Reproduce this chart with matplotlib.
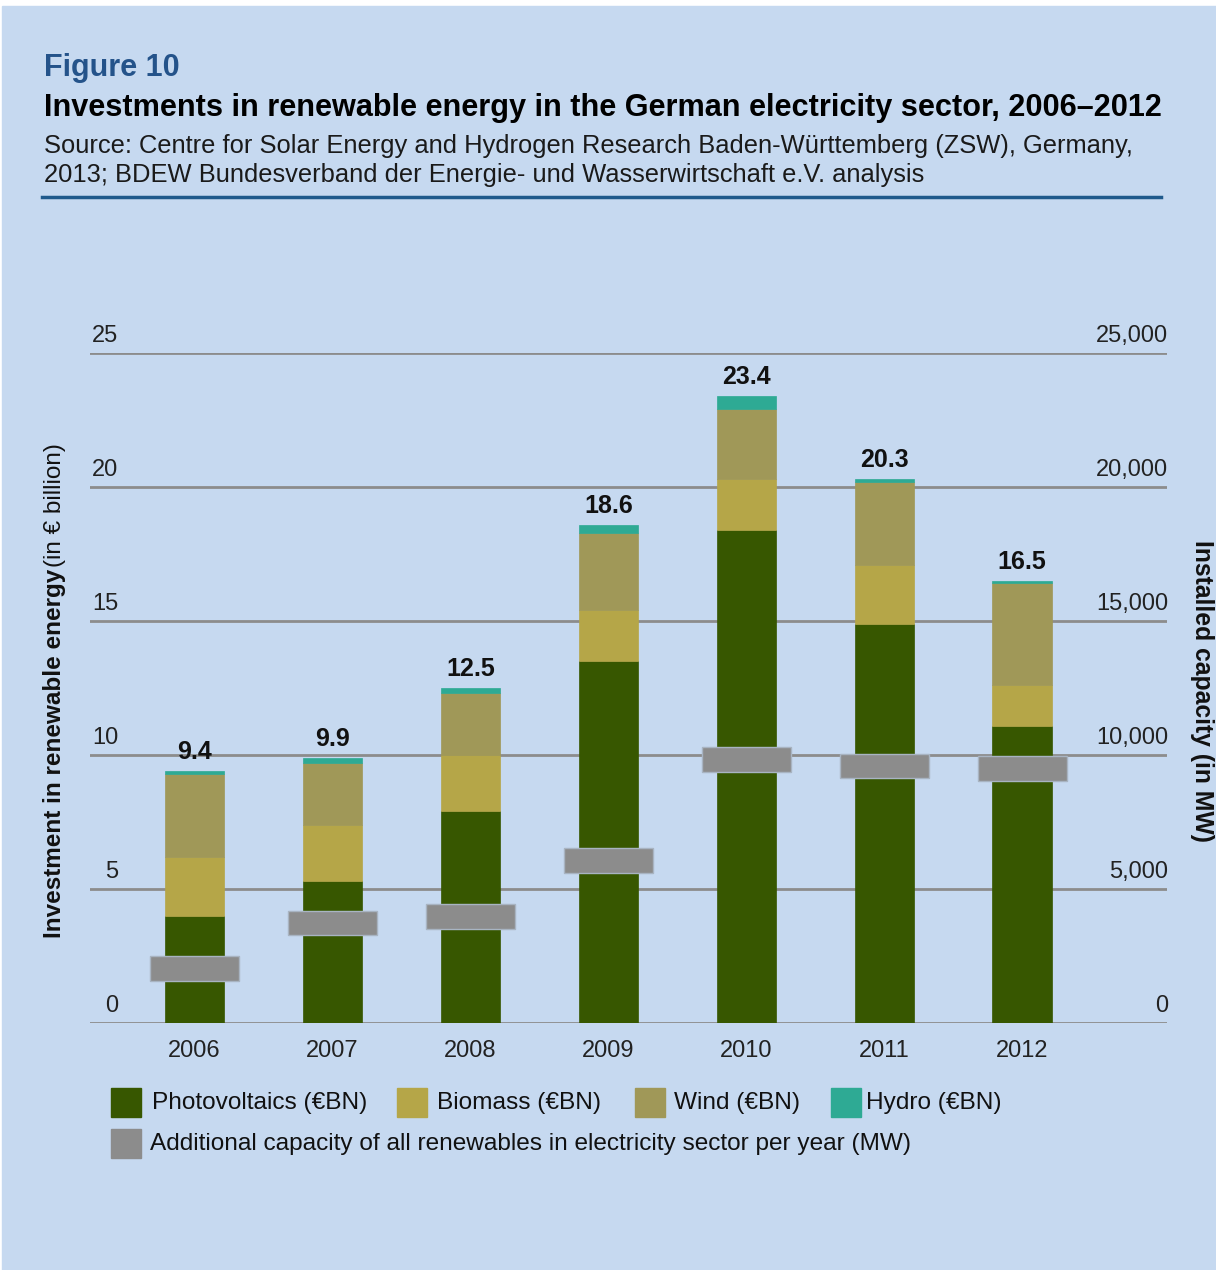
import matplotlib
matplotlib.use("Agg")
import matplotlib.pyplot as plt
import numpy as np
from matplotlib.patches import Rectangle
from matplotlib.transforms import blended_transform_factory

plt.rcParams["font.family"] = ["Liberation Sans", "DejaVu Sans"]

years = ["2006", "2007", "2008", "2009", "2010", "2011", "2012"]
photovoltaics = [4.0, 5.3, 7.9, 13.5, 18.4, 14.9, 11.1]
biomass = [2.2, 2.1, 2.1, 1.9, 1.9, 2.2, 1.5]
wind = [3.1, 2.3, 2.3, 2.9, 2.6, 3.1, 3.8]
hydro = [0.1, 0.2, 0.2, 0.3, 0.5, 0.1, 0.1]
totals = [9.4, 9.9, 12.5, 18.6, 23.4, 20.3, 16.5]
capacity_mw = [2030, 3730, 3960, 6080, 9830, 9590, 9500]

BG = "#C6D9F0"
GRID = "#8C8C8C"
colors = {"pv": "#375700", "bio": "#B5A648", "wind": "#A09858", "hydro": "#2EAA94"}
W, H = 1216, 1270

fig = plt.figure(figsize=(W / 100, H / 100), dpi=100)
fig.patch.set_facecolor("white")
fig.patches.append(Rectangle((2 / W, 0), 1 - 2 / W, 1 - 6 / H,
                             transform=fig.transFigure, color=BG, zorder=-10))

# header
fig.text(44 / W, 1 - 68 / H, "Figure 10", fontsize=22, fontweight="bold",
         color="#24538A", va="center")
fig.text(44 / W, 1 - 108 / H,
         "Investments in renewable energy in the German electricity sector, 2006\u20132012",
         fontsize=22.1, fontweight="bold", color="black", va="center")
fig.text(44 / W, 1 - 146 / H,
         "Source: Centre for Solar Energy and Hydrogen Research Baden-W\u00fcrttemberg (ZSW), Germany,",
         fontsize=18.4, color="#1a1a1a", va="center")
fig.text(44 / W, 1 - 175 / H,
         "2013; BDEW Bundesverband der Energie- und Wasserwirtschaft e.V. analysis",
         fontsize=18.4, color="#1a1a1a", va="center")
fig.lines.append(plt.Line2D([42 / W, 1161 / W], [1 - 197 / H] * 2,
                            transform=fig.transFigure, color="#1F5A8C", lw=2.5))

ax = fig.add_axes([90 / W, 247 / H, 1077 / W, 670 / H])
ax.set_facecolor(BG)
ax.set_xlim(-0.757, 7.05)
ax.set_ylim(0, 25)
for s in ax.spines.values():
    s.set_visible(False)
ax.set_xticks([])
ax.set_yticks([])

for v in [0, 5, 10, 15, 20, 25]:
    ax.axhline(v, color=GRID, lw=2, zorder=1)

x = np.arange(len(years))
w = 0.43
bottom = np.zeros(len(years))
for vals, key in [(photovoltaics, "pv"), (biomass, "bio"), (wind, "wind"), (hydro, "hydro")]:
    ax.bar(x, vals, w, bottom=bottom, color=colors[key], zorder=2,
           edgecolor=colors[key], linewidth=0.5)
    bottom += np.array(vals)

# capacity markers on secondary scale (0..25,000 MW)
ax2 = ax.twinx()
ax2.set_ylim(0, 25000)
ax2.set_xlim(ax.get_xlim())
ax2.axis("off")
mh = 930
ax2.bar(x, [mh] * len(x), 0.645, bottom=np.array(capacity_mw) - mh / 2,
        color="#8C8C8C", edgecolor="#A8B4C2", linewidth=1, zorder=3)

for xi, t, b in zip(x, totals, bottom):
    ax.text(xi, b + 0.7, f"{t:.1f}", ha="center", va="center", fontsize=18,
            fontweight="bold", color="#111111", zorder=4)

tr_l = blended_transform_factory(fig.transFigure, ax.transData)
for v in [0, 5, 10, 15, 20, 25]:
    ax.text(118 / W, v + 0.64, f"{v}", transform=tr_l, ha="right", va="center",
            fontsize=17, color="#222222")
    ax.text(1168 / W, v + 0.64, f"{v * 1000:,}", transform=tr_l, ha="right",
            va="center", fontsize=17, color="#222222")

for xi, yr in zip(x, years):
    ax.text(xi, -1.06, yr, ha="center", va="center", fontsize=17, color="#222222")

# axis titles
lab_bold = fig.text(55 / W, 1 - 938 / H, "Investment in renewable energy", rotation=90,
                    fontsize=17.5, fontweight="bold", ha="center", va="bottom",
                    color="#111111")
fig.canvas.draw()
bb = lab_bold.get_window_extent(fig.canvas.get_renderer())
fig.text(55 / W, (bb.y1 + 2) / H, "(in \u20ac billion)", rotation=90,
         fontsize=17.5, ha="center", va="bottom", color="#111111")
fig.text(1202 / W, 1 - 691 / H, "Installed capacity (in MW)", rotation=-90,
         fontsize=17.8, fontweight="bold", ha="center", va="center", color="#111111")

# legend
legend_items = [
    (111, 1102, 152, "Photovoltaics (\u20acBN)", colors["pv"]),
    (397, 1102, 437, "Biomass (\u20acBN)", colors["bio"]),
    (635, 1102, 674, "Wind (\u20acBN)", colors["wind"]),
    (831, 1102, 866, "Hydro (\u20acBN)", colors["hydro"]),
    (111, 1143, 150, "Additional capacity of all renewables in electricity sector per year (MW)", "#8C8C8C"),
]
for sx, sy, tx, label, c in legend_items:
    fig.patches.append(Rectangle((sx / W, 1 - (sy + 14.5) / H), 30 / W, 29 / H,
                                 transform=fig.transFigure, color=c))
    fig.text(tx / W, 1 - (sy + 1) / H, label, fontsize=17.6, va="center", color="#111111")

fig.savefig("out.png", dpi=100, facecolor=fig.get_facecolor())
